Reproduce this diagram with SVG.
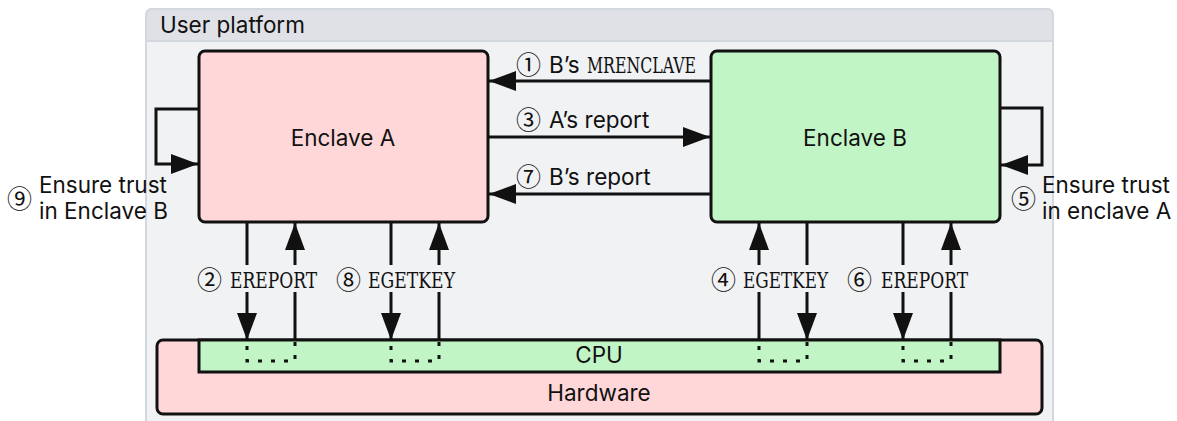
<svg xmlns="http://www.w3.org/2000/svg" width="1177" height="421" viewBox="0 0 1177 421">
  <style>
    .sans { font-family: Inter, "DejaVu Sans", sans-serif; font-size: 22.5px; fill: #111; }
    .num { font-family: "Noto Sans CJK JP", "DejaVu Sans", sans-serif; font-size: 25px; fill: #111; }
    .mono { font-family: "DejaVu Serif Condensed", "DejaVu Serif", "Liberation Serif", serif; font-size: 21.5px; fill: #111; }
    .box { stroke: #111; stroke-width: 3; }
    .enclaveA { fill: #ffd7d8; }
    .enclaveB { fill: #c2f5c6; }
    .link { fill: none; stroke: #111; stroke-width: 3; }
    .dots { fill: none; stroke: #111; stroke-width: 3; stroke-dasharray: 4 9; }
    .lblbg { fill: #f1f2f4; }
  </style>
  <defs>
    <marker id="arrow" viewBox="0 0 27 20" refX="27" refY="10" markerWidth="27" markerHeight="20" markerUnits="userSpaceOnUse" orient="auto">
      <path d="M0,0 L27,10 L0,20 Z" fill="#111"/>
    </marker>
  </defs>

  <!-- User platform container -->
  <g id="platform">
    <rect x="146" y="9" width="907" height="430" rx="6" fill="#f1f2f4" stroke="#d3d7de" stroke-width="2"/>
    <path d="M146,41 V15 a6,6 0 0 1 6,-6 H1047 a6,6 0 0 1 6,6 V41 Z" fill="#dfe1e6" stroke="#d3d7de" stroke-width="2"/>
    <text class="sans" x="160" y="33">User platform</text>
  </g>

  <!-- Hardware with CPU -->
  <g id="hardware">
    <rect class="box enclaveA" x="157" y="340" width="885" height="74" rx="6"/>
    <text class="sans" x="599" y="401" text-anchor="middle">Hardware</text>
  </g>
  <g id="cpu">
    <rect class="box enclaveB" x="199" y="340" width="801" height="32"/>
    <text class="sans" x="599" y="363" text-anchor="middle">CPU</text>
  </g>

  <!-- Enclaves -->
  <g id="enclave-a">
    <rect class="box enclaveA" x="199" y="51" width="289" height="171" rx="6"/>
    <text class="sans" x="343" y="146" text-anchor="middle">Enclave A</text>
  </g>
  <g id="enclave-b">
    <rect class="box enclaveB" x="711" y="51" width="289" height="171" rx="6"/>
    <text class="sans" x="855" y="146" text-anchor="middle">Enclave B</text>
  </g>

  <!-- Connectors -->
  <g id="connectors">
    <!-- messages between enclaves -->
    <path class="link" d="M711,81 H489" marker-end="url(#arrow)"/>
    <path class="link" d="M488,137 H710" marker-end="url(#arrow)"/>
    <path class="link" d="M711,194 H489" marker-end="url(#arrow)"/>
    <!-- self checks -->
    <path class="link" d="M199,109 H156 V164 H198" marker-end="url(#arrow)"/>
    <path class="link" d="M1000,108 H1042 V165 H1001" marker-end="url(#arrow)"/>
    <!-- instruction calls into the CPU -->
    <path class="link" d="M247,222 V340" marker-end="url(#arrow)"/>
    <path class="link" d="M295,340 V223" marker-end="url(#arrow)"/>
    <path class="link" d="M391,222 V340" marker-end="url(#arrow)"/>
    <path class="link" d="M439,340 V223" marker-end="url(#arrow)"/>
    <path class="link" d="M759,340 V223" marker-end="url(#arrow)"/>
    <path class="link" d="M807,222 V340" marker-end="url(#arrow)"/>
    <path class="link" d="M903,222 V340" marker-end="url(#arrow)"/>
    <path class="link" d="M951,340 V223" marker-end="url(#arrow)"/>
    <!-- internal CPU paths -->
    <path class="dots" d="M247,346 V361 H295 V340"/>
    <path class="dots" d="M391,346 V361 H439 V340"/>
    <path class="dots" d="M759,346 V361 H807 V340"/>
    <path class="dots" d="M903,346 V361 H951 V340"/>
  </g>

  <!-- Labels -->
  <g id="labels">
    <text class="num" x="516" y="74">①</text>
    <text class="sans" x="549" y="73">B’s</text>
    <text class="mono" x="587" y="73" textLength="109" lengthAdjust="spacingAndGlyphs">MRENCLAVE</text>

    <text class="num" x="516" y="129">③</text>
    <text class="sans" x="549" y="128">A’s report</text>

    <text class="num" x="516" y="186">⑦</text>
    <text class="sans" x="549" y="185">B’s report</text>

    <rect class="lblbg" x="196" y="265" width="126" height="27"/>
    <text class="num" x="197" y="289">②</text>
    <text class="mono" x="230" y="288" textLength="87" lengthAdjust="spacingAndGlyphs">EREPORT</text>

    <rect class="lblbg" x="334" y="265" width="124" height="27"/>
    <text class="num" x="336" y="289">⑧</text>
    <text class="mono" x="368" y="288" textLength="87" lengthAdjust="spacingAndGlyphs">EGETKEY</text>

    <rect class="lblbg" x="709" y="265" width="122" height="27"/>
    <text class="num" x="711" y="289">④</text>
    <text class="mono" x="743" y="288" textLength="85" lengthAdjust="spacingAndGlyphs">EGETKEY</text>

    <rect class="lblbg" x="845" y="265" width="126" height="27"/>
    <text class="num" x="847" y="289">⑥</text>
    <text class="mono" x="881" y="288" textLength="87" lengthAdjust="spacingAndGlyphs">EREPORT</text>

    <text class="num" x="7" y="208">⑨</text>
    <text class="sans" x="39" y="193">Ensure trust</text>
    <text class="sans" x="39" y="219">in Enclave B</text>

    <text class="num" x="1011" y="208">⑤</text>
    <text class="sans" x="1042" y="193">Ensure trust</text>
    <text class="sans" x="1042" y="219">in enclave A</text>
  </g>
</svg>
